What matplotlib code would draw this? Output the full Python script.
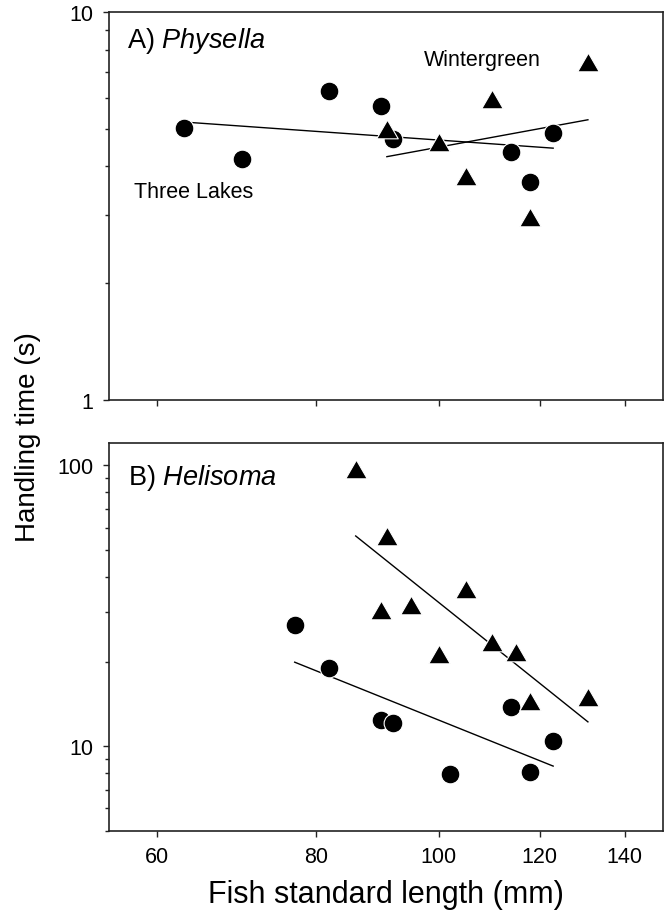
import matplotlib
matplotlib.use("Agg")
import matplotlib.pyplot as plt
import matplotlib.ticker as ticker
from matplotlib.path import Path

plt.rcParams['font.family'] = ['Liberation Sans', 'DejaVu Sans']
plt.rcParams['mathtext.fontset'] = 'custom'
plt.rcParams['mathtext.rm'] = 'Liberation Sans'
plt.rcParams['mathtext.it'] = 'Liberation Sans:italic'

#panel A, Physella: fish length (mm) and handling time (s)
phys_tl_len = [63, 70, 82, 90, 92, 114, 118, 123]
phys_tl_time = [5.03, 4.17, 6.25, 5.74, 4.71, 4.37, 3.65, 4.89]
phys_wg_len = [91, 100, 105, 110, 118, 131]
phys_wg_time = [5.0, 4.64, 3.79, 5.98, 2.96, 7.43]
#fitted lines (end points)
phys_tl_fit_x = [63.5, 123]
phys_tl_fit_y = [5.2, 4.46]
phys_wg_fit_x = [91, 131]
phys_wg_fit_y = [4.24, 5.28]

#panel B, Helisoma
heli_tl_len = [77, 82, 90, 92, 102, 114, 118, 123]
heli_tl_time = [27.1, 18.9, 12.4, 12.05, 7.95, 13.8, 8.08, 10.45]
heli_wg_len = [86, 91, 90, 95, 100, 105, 110, 115, 118, 131]
heli_wg_time = [97.3, 56.0, 30.4, 31.8, 21.3, 36.4, 23.5, 21.7, 14.5, 14.9]
heli_tl_fit_x = [77, 123]
heli_tl_fit_y = [19.9, 8.49]
heli_wg_fit_x = [86, 131]
heli_wg_fit_y = [56.0, 12.2]

x_ticks = [60, 80, 100, 120, 140]

#equilateral triangle marker
tri = Path([(-1, -0.866), (1, -0.866), (0, 0.866), (-1, -0.866)],
           [Path.MOVETO, Path.LINETO, Path.LINETO, Path.CLOSEPOLY])

fig = plt.figure(figsize=(6.68, 9.2), dpi=100)
ax1 = fig.add_axes([0.1632, 0.5645, 0.8288, 0.421])
ax2 = fig.add_axes([0.1632, 0.096, 0.8288, 0.4214])


def style_axis(ax, ylim):
    ax.set_xscale('log')
    ax.set_yscale('log')
    ax.set_xlim(55, 150)
    ax.set_ylim(*ylim)
    ax.xaxis.set_major_locator(ticker.FixedLocator(x_ticks))
    ax.xaxis.set_major_formatter(ticker.FixedFormatter([str(t) for t in x_ticks]))
    ax.xaxis.set_minor_locator(ticker.NullLocator())
    ax.yaxis.set_major_locator(ticker.LogLocator(base=10))
    ax.yaxis.set_major_formatter(ticker.FuncFormatter(lambda v, p: f"{v:g}"))
    ax.yaxis.set_minor_locator(ticker.LogLocator(base=10, subs=range(2, 10)))
    ax.yaxis.set_minor_formatter(ticker.NullFormatter())
    ax.tick_params(which='major', direction='out', length=4.3, width=1.0,
                   labelsize=15.5, color='#222222')
    ax.tick_params(which='minor', direction='out', length=2.9, width=1.0, color='#222222')
    ax.tick_params(axis='x', pad=7)
    ax.tick_params(axis='y', pad=7)
    for s in ax.spines.values():
        s.set_linewidth(1.2)
        s.set_color('#222222')


def draw_panel(ax, tl_x, tl_y, wg_x, wg_y, tl_fx, tl_fy, wg_fx, wg_fy):
    ax.plot(tl_fx, tl_fy, color='black', linewidth=1.0, zorder=2)
    ax.plot(wg_fx, wg_fy, color='black', linewidth=1.0, zorder=2)
    ax.plot(tl_x, tl_y, linestyle='none', marker='o', markersize=13.5,
            markerfacecolor='black', markeredgecolor='white', markeredgewidth=0.8, zorder=3)
    ax.plot(wg_x, wg_y, linestyle='none', marker=tri, markersize=15.5,
            markerfacecolor='black', markeredgecolor='white', markeredgewidth=0.8, zorder=4)


style_axis(ax1, (1, 10))
style_axis(ax2, (5, 120))
ax1.tick_params(axis='x', labelbottom=False)

draw_panel(ax1, phys_tl_len, phys_tl_time, phys_wg_len, phys_wg_time,
           phys_tl_fit_x, phys_tl_fit_y, phys_wg_fit_x, phys_wg_fit_y)
draw_panel(ax2, heli_tl_len, heli_tl_time, heli_wg_len, heli_wg_time,
           heli_tl_fit_x, heli_tl_fit_y, heli_wg_fit_x, heli_wg_fit_y)

#panel labels and site names
ax1.text(0.033, 0.911, r"A) $\mathit{Physella}$", transform=ax1.transAxes,
         fontsize=19.5, va='baseline', ha='left')
ax2.text(0.035, 0.894, r"B) $\mathit{Helisoma}$", transform=ax2.transAxes,
         fontsize=19.5, va='baseline', ha='left')
ax1.text(97.3, 7.32, "Wintergreen", fontsize=15.5, va='baseline', ha='left')
ax1.text(57.5, 3.34, "Three Lakes", fontsize=15.5, va='baseline', ha='left')

fig.text(0.5778, 1 - 895 / 920, "Fish standard length (mm)", fontsize=22,
         ha='center', va='center')
fig.text(28 / 668, 1 - 437 / 920, "Handling time (s)", fontsize=20,
         ha='center', va='center', rotation=90)

fig.savefig("out.png", dpi=100)
